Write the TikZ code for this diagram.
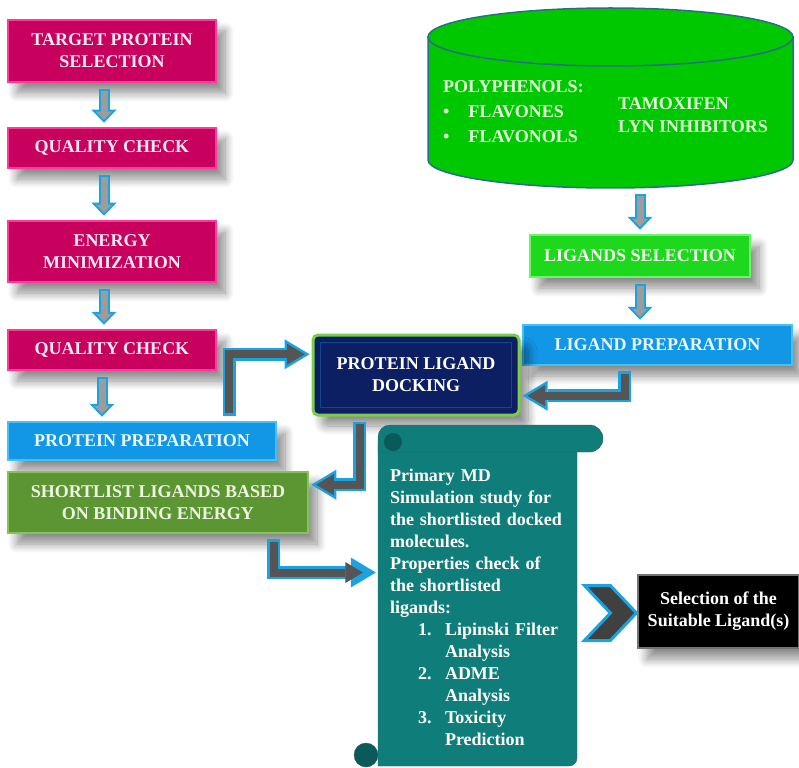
\documentclass[tikz,border=0pt]{standalone}
\usepackage{fontspec}
\setmainfont{Liberation Serif}
\usetikzlibrary{arrows.meta,calc,shadows.blur}

\definecolor{pinkface}{HTML}{C8005E}
\definecolor{pinkedge}{HTML}{FF3A9C}
\definecolor{pinktext}{HTML}{FFEAF5}
\definecolor{blueface}{HTML}{1296E6}
\definecolor{blueedge}{HTML}{44C2F8}
\definecolor{bluetext}{HTML}{EAF8FF}
\definecolor{limeface}{HTML}{1ED81E}
\definecolor{limeedge}{HTML}{6CF56C}
\definecolor{limetext}{HTML}{F2FFEA}
\definecolor{oliveface}{HTML}{5B9632}
\definecolor{oliveedge}{HTML}{86C25A}
\definecolor{olivetext}{HTML}{EEF6E2}
\definecolor{navyface}{HTML}{0B1F62}
\definecolor{navyedge}{HTML}{7CCB4A}
\definecolor{dbgreen}{HTML}{00C800}
\definecolor{dbline}{HTML}{2A6E86}
\definecolor{dbtext}{HTML}{E2FFD8}
\definecolor{scrollteal}{HTML}{0F7D7A}
\definecolor{scrolldark}{HTML}{0B5A5A}
\definecolor{scrolledge}{HTML}{355A66}
\definecolor{pipecyan}{HTML}{1AA3E0}
\definecolor{pipegray}{HTML}{9C9C9C}
\definecolor{pipedark}{HTML}{555555}

\tikzset{
  boldtxt/.style={font=\bfseries\fontsize{18}{22}\selectfont},
  softshadow/.style={blur shadow={shadow xshift=9pt, shadow yshift=-11pt, shadow blur radius=9pt,
    shadow blur steps=10, shadow opacity=45}},
  box/.style={boldtxt, draw=#1edge, line width=2.5pt, fill=#1face, text=#1text,
    align=center, inner sep=2pt, softshadow},
  dockbox/.style={boldtxt, draw=navyedge, line width=3pt, fill=navyface, text=white,
    rounded corners=5pt, align=center, inner sep=2pt, softshadow},
  selbox/.style={boldtxt, draw=black!55, line width=1.2pt, fill=black, text=white,
    align=center, inner sep=2pt, softshadow},
  dbtxt/.style={boldtxt, text=dbtext, inner sep=2pt, anchor=west},
  mdtxt/.style={boldtxt, text=white, align=left, text width=175pt, inner xsep=12pt,
    inner ysep=0pt, minimum height=313pt},
  downpipe/.style={line width=7pt, pipegray, shorten <=8pt, shorten >=6.9pt,
    -{Triangle[length=8.1pt,width=15.6pt,line width=0pt]},
    preaction={draw, line width=11pt, pipecyan, shorten <=6pt, shorten >=4pt,
      -{Triangle[length=13pt,width=25pt,line width=0pt]}}},
  elbowpipe/.style={line width=8pt, pipedark, line join=miter, shorten <=7.5pt, shorten >=6.9pt,
    -{Triangle[length=17.6pt,width=21pt,line width=0pt]},
    preaction={draw, line width=13pt, pipecyan, line join=miter, shorten <=5pt, shorten >=2pt,
      -{Triangle[length=25pt,width=30pt,line width=0pt]}}},
}

\begin{document}
\begin{tikzpicture}[x=1pt,y=-1pt]
  \useasboundingbox (0,0) rectangle (799,767);

  % left column
  \node[box=pink, minimum width=208pt, minimum height=62pt] (tps) at (112,51) {TARGET PROTEIN\\SELECTION};
  \node[box=pink, minimum width=208pt, minimum height=40pt] (qc1) at (112,148) {QUALITY CHECK};
  \node[box=pink, minimum width=208pt, minimum height=61pt] (em) at (112,251.5) {ENERGY\\MINIMIZATION};
  \node[box=pink, minimum width=208pt, minimum height=40pt] (qc2) at (112,350) {QUALITY CHECK};
  \node[box=blue, minimum width=268pt, minimum height=38pt] (pp) at (142,441) {PROTEIN PREPARATION};
  \node[box=olive, minimum width=300pt, minimum height=61pt] (sl) at (158,502.5) {SHORTLIST LIGANDS BASED\\ON BINDING ENERGY};

  % ligand database
  \draw[dbline, line width=1.5pt, fill=dbgreen] (428,37) -- (428,160)
    arc[start angle=180, end angle=360, x radius=182.5pt, y radius=28pt] -- (793,37) -- cycle;
  \draw[dbline, line width=1.5pt, fill=dbgreen] (610.5,37) ellipse [x radius=182.5pt, y radius=29pt];
  \coordinate (dbbot) at (610.5,188);
  \node[dbtxt] (poly) at (441,87) {POLYPHENOLS:};
  \node[dbtxt] (flv1) at (441,112) {\textbullet\hspace{19pt}FLAVONES};
  \node[dbtxt] (flv2) at (441,137) {\textbullet\hspace{19pt}FLAVONOLS};
  \node[dbtxt] (tam) at (616,104) {TAMOXIFEN};
  \node[dbtxt] (lyn) at (616,127) {LYN INHIBITORS};

  % right column
  \node[box=lime, minimum width=220pt, minimum height=42pt] (ls) at (640,256) {LIGANDS SELECTION};
  \node[box=blue, minimum width=269pt, minimum height=40pt] (lp) at (657.5,345) {LIGAND PREPARATION};
  \node[dockbox, minimum width=206pt, minimum height=80pt] (dock) at (416,375) {PROTEIN LIGAND\\DOCKING};
  \draw[blueface!35!navyface, line width=.8pt] ($(dock.north west)+(9,9)$) rectangle ($(dock.south east)+(-9,-9)$);

  % scroll
  \draw[scrolledge, fill=scrollteal] (378,445) -- (378,766) -- (569,766)
    arc[start angle=270, end angle=360, radius=8pt] -- (577,445) -- cycle;
  \draw[scrolledge, fill=scrollteal] (378,452) -- (378,437) arc[start angle=180, end angle=90, radius=12pt]
    -- (589.5,425) arc[start angle=90, end angle=-90, radius=13.5pt] -- cycle;
  \fill[scrolldark] (393,442) circle (9pt);
  \draw[scrolledge, fill=scrolldark] (366,755) circle (12pt);
  \node[mdtxt] (md) at (477.5,607) {Primary MD\\Simulation study for\\the shortlisted docked\\molecules.\\Properties check of\\the shortlisted\\ligands:\\
    \hspace*{28pt}\makebox[27pt][l]{1.}Lipinski Filter\\ \hspace*{55pt}Analysis\\
    \hspace*{28pt}\makebox[27pt][l]{2.}ADME\\ \hspace*{55pt}Analysis\\
    \hspace*{28pt}\makebox[27pt][l]{3.}Toxicity\\ \hspace*{55pt}Prediction};

  \node[selbox, minimum width=161pt, minimum height=73pt] (sel) at (718.5,611.5) {Selection of the\\Suitable Ligand(s)};

  % arrows
  \draw[downpipe] ([xshift=-8pt]tps.south) -- ([xshift=-8pt]qc1.north);
  \draw[downpipe] ([xshift=-8pt]qc1.south) -- ([xshift=-8pt]em.north);
  \draw[downpipe] ([xshift=-8pt]em.south) -- ([xshift=-8pt]qc2.north);
  \draw[downpipe] ([xshift=-10pt]qc2.south) -- ([xshift=-10pt]qc2.south |- pp.north);
  \draw[downpipe] (dbbot -| ls.north) -- (ls.north);
  \draw[downpipe] (ls.south) -- (ls.south |- lp.north);

  \draw[elbowpipe] ($(pp.north east)+(-48,0)$) |- ($(dock.north west)!.25!(dock.south west)$);
  \draw[elbowpipe] ($(lp.south west)+(103,0)$) |- ($(dock.north east)!.75!(dock.south east)$);
  \draw[elbowpipe] ($(dock.south west)+(48,0)$) |- ($(sl.north east)!.22!(sl.south east)$);
  \draw[elbowpipe, shorten >=14.9pt, preaction={shorten >=10pt}] ($(sl.south west)+(267,0)$) |- ($(md.north west)!.39!(md.south west)$);

  \draw[pipecyan, line width=3pt, fill=pipedark!75!black, line join=miter, shift={(sel.west)}]
    (-53,-26) -- (-27,-26) -- (-1,1.5) -- (-27,29) -- (-53,29) -- (-27,1.5) -- cycle;
\end{tikzpicture}
\end{document}
